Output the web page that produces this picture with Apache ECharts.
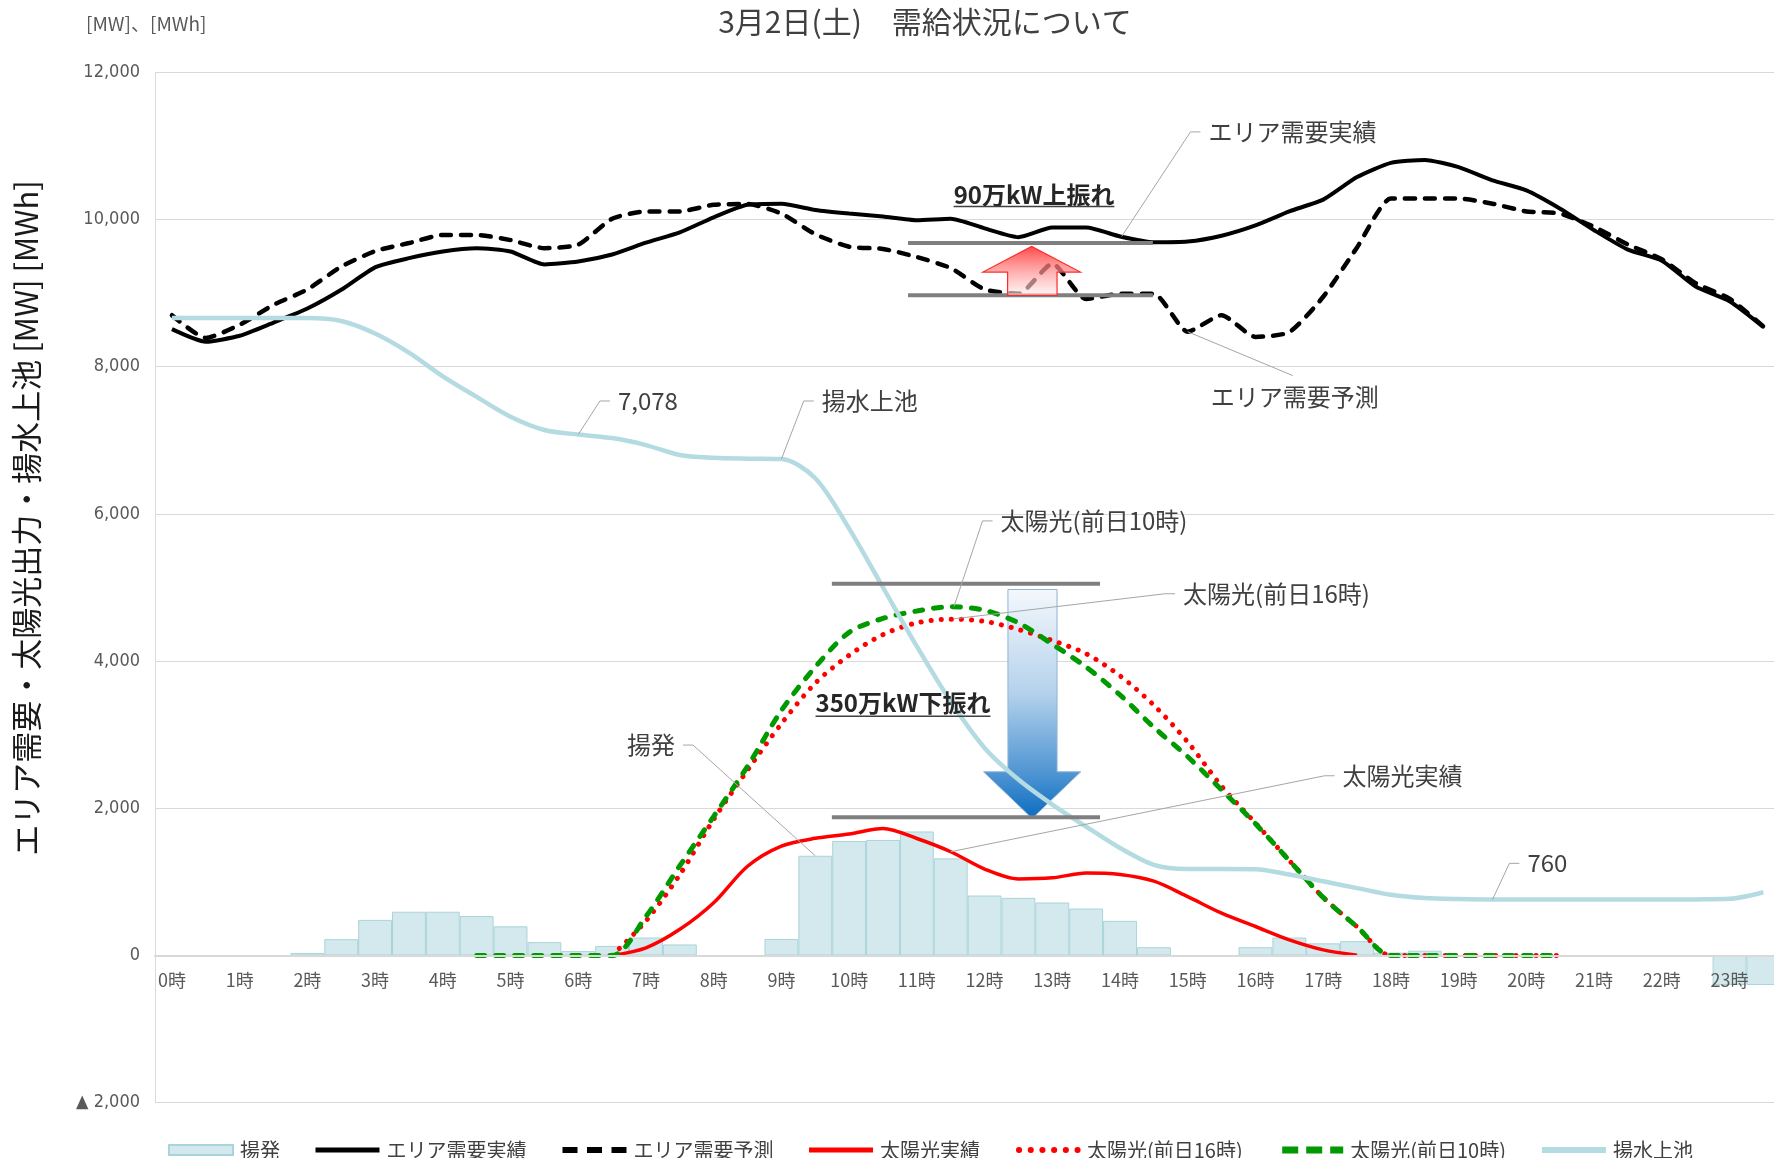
<!DOCTYPE html>
<html>
<head>
<meta charset="utf-8">
<script src="https://cdn.jsdelivr.net/npm/echarts@6/dist/echarts.min.js"></script>
<style>html,body{margin:0;padding:0;background:#fff;}#main{width:1774px;height:1158px;}</style>
</head>
<body>
<div id="main"></div>
<script>
// ---------------- data ----------------
const categories = ['0:00','0:30','1:00','1:30','2:00','2:30','3:00','3:30','4:00','4:30','5:00','5:30',
  '6:00','6:30','7:00','7:30','8:00','8:30','9:00','9:30','10:00','10:30','11:00','11:30',
  '12:00','12:30','13:00','13:30','14:00','14:30','15:00','15:30','16:00','16:30','17:00','17:30',
  '18:00','18:30','19:00','19:30','20:00','20:30','21:00','21:30','22:00','22:30','23:00','23:30'];

const seriesNames = ['揚発','エリア需要実績','エリア需要予測','太陽光実績','太陽光(前日16時)','太陽光(前日10時)','揚水上池'];

const pumpGen = [0,0,0,0,35,222,484,595,595,536,396,181,60,130,244,150,0,0,225,1355,1555,1570,1685,1320,
  815,783,720,638,471,113,0,0,113,244,165,195,40,65,0,0,0,0,0,0,0,0,-400,-400];

const demandActual = [8510,8340,8420,8600,8790,9045,9350,9475,9566,9611,9566,9390,9430,9525,9685,9825,10030,10200,10213,10130,10080,10040,9990,10010,
  9880,9760,9890,9890,9770,9690,9700,9780,9920,10110,10270,10576,10770,10810,10712,10531,10396,10147,9855,9590,9440,9090,8890,8540];

const demandForecast = [8700,8390,8570,8840,9050,9360,9570,9680,9790,9790,9720,9610,9660,10010,10110,10110,10200,10210,10080,9800,9630,9600,9490,9340,
  9050,8990,9400,8920,8990,8990,8475,8700,8405,8470,8950,9620,10285,10285,10285,10215,10110,10080,9900,9660,9460,9135,8925,8545];

const solarActual = [null,null,null,null,null,null,null,null,null,null,null,null,null,
  0,105,356,717,1213,1487,1592,1650,1726,1590,1410,1175,1040,1055,1120,1100,1010,800,575,394,213,77,5,
  null,null,null,null,null,null,null,null,null,null,null,null];

const solarFcst16 = [null,null,null,null,null,null,null,null,null,null,null,null,null,
  0,470,1100,1850,2520,3150,3700,4080,4360,4520,4570,4540,4430,4280,4100,3800,3400,2900,2300,1800,1290,790,390,0,0,0,0,0,0,
  null,null,null,null,null,null];

const solarFcst10 = [null,null,null,null,null,null,null,null,null,
  0,0,0,0,0,530,1220,1890,2570,3330,3920,4390,4580,4680,4740,4690,4520,4230,3920,3540,3100,2700,2250,1790,1290,790,390,0,0,0,0,0,0,
  null,null,null,null,null,null];

const pondLevel = [8660,8660,8660,8660,8660,8620,8450,8190,7870,7590,7320,7140,7078,7030,6935,6800,6762,6750,6745,6485,5800,5000,4200,3450,
  2820,2390,2050,1750,1460,1232,1175,1175,1172,1100,1008,915,825,780,766,760,760,760,760,760,760,762,770,860];

const yMin = -2000, yMax = 12000, yStep = 2000;

// annotation callouts (category slot, value)
const callouts = [
  {text:'エリア需要実績', at:[28.05, 9770], elbow:[30.08, 11190], side:'right'},
  {text:'7,078', at:[12, 7078], elbow:[12.64, 7534], side:'right'},
  {text:'揚水上池', at:[18, 6745], elbow:[18.66, 7534], side:'right'},
  {text:'太陽光(前日10時)', at:[23.1, 4745], elbow:[23.94, 5905], side:'right'},
  {text:'太陽光(前日16時)', at:[23.1, 4575], elbow:[29.33, 4915], side:'right'},
  {text:'太陽光実績', at:[23, 1410], elbow:[34.04, 2442], side:'right'},
  {text:'揚発', at:[19, 1355], elbow:[15.39, 2859], side:'left'},
  {text:'760', at:[39, 760], elbow:[39.5, 1252], side:'right'}
];
const forecastCallout = {text:'エリア需要予測', at:[30, 8475], end:[33.1, 7880], textAt:[30.68, 7585]};
const upperBars = {from:21.74, to:28.97, values:[9680, 8970]};
const lowerBars = {from:19.49, to:27.41, values:[5050, 1880]};
const upArrow = {shaft:[24.68, 26.14], head:[23.95, 26.83], base:8970, headBase:9286, tip:9635};
const downArrow = {shaft:[24.69, 26.14], head:[23.97, 26.84], top:4973, headTop:2496, tip:1863};
const upText = {text:'90万kW上振れ', at:[25.46, 10341], underline:10178};
const downText = {text:'350万kW下振れ', at:[21.59, 3429], underline:3252};

// ---------------- chart ----------------
const FONT = '"Noto Sans CJK JP","Noto Sans",sans-serif';
const GRID_TOP = 72.3, GRID_H = 1030.4;
const chart = echarts.init(document.getElementById('main'), null, {renderer:'canvas'});

const lineBase = {type:'line', symbol:'none', showSymbol:false, connectNulls:false, emphasis:{disabled:true}};
const lineStyles = [
  null,
  {color:'#000000', width:4},
  {color:'#000000', width:4.5, type:[10,10], cap:'round'},
  {color:'#ff0000', width:3.5},
  {color:'#ff0000', width:5, type:[0.1,10], cap:'round'},
  {color:'#009900', width:5, type:[8,11], cap:'round'},
  {color:'#b4dbe1', width:4.5}
];
const legendLineStyles = [
  null,
  {color:'#000000', width:5, cap:'butt'},
  {color:'#000000', width:6, type:[15,9.5], cap:'butt'},
  {color:'#ff0000', width:5, cap:'butt'},
  {color:'#ff0000', width:6, type:[0.1,11.6], cap:'round', dashOffset:-3},
  {color:'#009900', width:7, type:[16,8], cap:'butt'},
  {color:'#b4dbe1', width:6, cap:'butt'}
];
function lineSeries(idx, data, smooth){
  return Object.assign({}, lineBase, {name:seriesNames[idx], data, smooth,
    itemStyle:{color:lineStyles[idx].color}, lineStyle:lineStyles[idx]});
}

const option = {
  animation:false,
  backgroundColor:'#ffffff',
  grid:{left:155, top:GRID_TOP, width:1625.3, height:GRID_H, outerBoundsMode:'none', containLabel:false},
  xAxis:{
    type:'category', data:categories, boundaryGap:true, position:'bottom', z:5,
    offset: -GRID_H * (0 - yMin) / (yMax - yMin),
    axisLine:{show:true, onZero:false, lineStyle:{color:'#d9d9d9', width:2}},
    axisTick:{show:false},
    axisLabel:{interval:1, margin:16, color:'#595959', fontSize:18, fontFamily:FONT,
      formatter:v => v.endsWith(':00') ? parseInt(v,10)+'時' : ''},
    splitLine:{show:false}
  },
  yAxis:{
    type:'value', min:yMin, max:yMax, interval:yStep,
    axisLine:{show:true, lineStyle:{color:'#d9d9d9', width:1}},
    axisTick:{show:false},
    splitLine:{show:true, lineStyle:{color:'#d9d9d9', width:1}},
    axisLabel:{margin:15, color:'#595959', fontSize:18, fontFamily:'"DejaVu Sans Condensed","Liberation Sans Narrow","Noto Sans",sans-serif',
      formatter:v => v < 0 ? '▲ ' + Math.abs(v).toLocaleString('en-US') : v.toLocaleString('en-US')}
  },
  legend:{
    left:163, top:1135, itemWidth:64, itemHeight:10, itemGap:33,
    textStyle:{fontSize:20, color:'#404040', fontFamily:FONT, padding:[0,0,0,2]},
    data:seriesNames.map((n, i) => n === '揚発' ? {name:n, icon:'rect'}
      : {name:n, itemStyle:{opacity:0}, lineStyle:legendLineStyles[i]})
  },
  series:[
    {name:seriesNames[0], type:'bar', data:pumpGen, barCategoryGap:'0%', barGap:'0%',
      itemStyle:{color:'#d4e9ed', borderColor:'#a9d4da', borderWidth:1}, emphasis:{disabled:true}},
    lineSeries(1, demandActual, 0.2),
    lineSeries(2, demandForecast, 0.2),
    lineSeries(3, solarActual, 0.3),
    lineSeries(4, solarFcst16, 0.3),
    lineSeries(5, solarFcst10, 0.3),
    lineSeries(6, pondLevel, 0.3)
  ]
};
chart.setOption(option);

// ---------- annotations positioned through the chart's own scales ----------
const o = chart.convertToPixel({gridIndex:0}, [0, 0]);
const q = chart.convertToPixel({gridIndex:0}, [1, 2000]);
const X = s => o[0] + s * (q[0] - o[0]);
const Y = v => o[1] + v * (q[1] - o[1]) / 2000;
const P = (s, v) => [X(s), Y(v)];

const ctx = document.createElement('canvas').getContext('2d');
function measure(str, font){ ctx.font = font; return ctx.measureText(str).width; }

const G = [];
function poly(points, color, width, z){
  G.push({type:'polyline', silent:true, z:z||60, shape:{points}, style:{stroke:color, lineWidth:width, fill:null}});
}
function txt(str, x, y, align, font, color){
  G.push({type:'text', silent:true, z:70, x, y,
    style:{text:str, font, fill:color||'#404040', align, verticalAlign:'middle', textAlign:align, textVerticalAlign:'middle'}});
}
const LABEL_FONT = '24px ' + FONT;
const LEAD = '#a6a6a6';

callouts.forEach(c => {
  const a = P(c.at[0], c.at[1]);
  const e = P(c.elbow[0], c.elbow[1]);
  const dir = c.side === 'right' ? 1 : -1;
  const t = [e[0] + dir * 10, e[1]];
  poly([a, e, t], LEAD, 1);
  txt(c.text, t[0] + dir * 8, e[1], c.side === 'right' ? 'left' : 'right', LABEL_FONT);
});
{
  const c = forecastCallout;
  poly([P(c.at[0], c.at[1]), P(c.end[0], c.end[1])], LEAD, 1);
  const tp = P(c.textAt[0], c.textAt[1]);
  txt(c.text, tp[0], tp[1], 'left', LABEL_FONT);
}

// gray reference bars
[upperBars, lowerBars].forEach(b => b.values.forEach(v => {
  poly([P(b.from, v), P(b.to, v)], '#7f7f7f', 4, 55);
}));

// blue down arrow (under series)
{
  const d = downArrow;
  const mid = (d.head[0] + d.head[1]) / 2;
  G.push({type:'polygon', silent:true, z:1,
    shape:{points:[P(d.shaft[0], d.top), P(d.shaft[1], d.top), P(d.shaft[1], d.headTop), P(d.head[1], d.headTop),
      P(mid, d.tip), P(d.head[0], d.headTop), P(d.shaft[0], d.headTop)]},
    style:{fill:new echarts.graphic.LinearGradient(0,0,0,1,[
      {offset:0, color:'#f4f8fc'},{offset:0.45, color:'#b5d2ec'},{offset:0.8, color:'#4f95d3'},{offset:1, color:'#0a6cbf'}]),
      stroke:'#8fb3d6', lineWidth:1}});
}
// red up arrow (over series, translucent)
{
  const u = upArrow;
  const mid = (u.head[0] + u.head[1]) / 2;
  G.push({type:'polygon', silent:true, z:65,
    shape:{points:[P(u.shaft[0], u.base), P(u.shaft[1], u.base), P(u.shaft[1], u.headBase), P(u.head[1], u.headBase),
      P(mid, u.tip), P(u.head[0], u.headBase), P(u.shaft[0], u.headBase)]},
    style:{fill:new echarts.graphic.LinearGradient(0,0,0,1,[
      {offset:0, color:'rgba(255,40,40,0.85)'},{offset:1, color:'rgba(255,240,240,0.6)'}]),
      stroke:'#ff2a2a', lineWidth:1.2}});
}

// bold underlined texts
[upText, downText].forEach(t => {
  const font = 'bold 24px ' + FONT;
  const w = measure(t.text, font);
  const c = P(t.at[0], t.at[1]);
  txt(t.text, c[0], c[1], 'center', font, '#262626');
  const uy = Y(t.underline);
  poly([[c[0] - w/2, uy], [c[0] + w/2, uy]], '#404040', 1.5, 70);
});

// titles and axis name
txt('3月2日(土)　需給状況について', 925, 22, 'center', '30px ' + FONT, '#404040');
txt('[MW]、[MWh]', 86, 24, 'left', '19px ' + FONT, '#595959');
G.push({type:'text', silent:true, z:70, x:26, y:518, rotation:Math.PI/2,
  style:{text:'エリア需要・太陽光出力・揚水上池 [MW] [MWh]', font:'31px ' + FONT, fill:'#1a1a1a',
    align:'center', verticalAlign:'middle', textAlign:'center', textVerticalAlign:'middle'}});

chart.setOption({graphic:{elements:G}});
</script>
</body>
</html>
